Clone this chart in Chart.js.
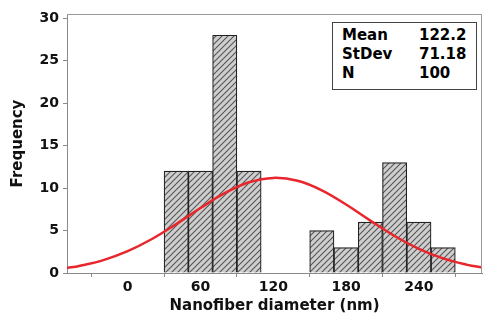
<!DOCTYPE html>
<html><head><meta charset="utf-8">
<script src="https://cdn.jsdelivr.net/npm/chart.js@4/dist/chart.umd.min.js"></script>
<style>
html,body{margin:0;padding:0;background:#fff;}
#wrap{position:relative;width:483px;height:320px;}
#stats{position:absolute;left:332px;top:22px;width:145px;height:68px;border:1.5px solid #444;box-sizing:border-box;background:#fff;
 font:bold 15px "DejaVu Sans",sans-serif;color:#000;padding:3px 0 0 9px;}
#stats div{height:19px;line-height:19px;white-space:nowrap;}
#stats span{display:inline-block;width:77px;}
</style></head><body>
<div id="wrap"><canvas id="c" width="483" height="320"></canvas><div id="stats"></div></div>
<script>
// Histogram bins (centres, nm) and counts
const binCenters = [40, 60, 80, 100, 160, 180, 200, 220, 240, 260];
const frequencies = [12, 12, 28, 12, 5, 3, 6, 13, 6, 3];
// Fitted normal curve
const curveX = [-50, -40, -20, 0, 20, 40, 60, 80, 100, 120, 140, 160, 180, 200, 220, 240, 260, 280, 292];
const curveY = [0.60, 0.83, 1.52, 2.57, 4.00, 5.76, 7.65, 9.40, 10.68, 11.20, 10.86, 9.74, 8.06, 6.17, 4.36, 2.85, 1.72, 0.96, 0.65];
// Tick labels
const xTicks = [0, 60, 120, 180, 240];
const yTicks = [0, 5, 10, 15, 20, 25, 30];
// Stats box
const statLabels = ['Mean', 'StDev', 'N'];
const statValues = ['122.2', '71.18', '100'];

document.getElementById('stats').innerHTML = statLabels.map((l, i) =>
  '<div><span>' + l + '</span>' + statValues[i] + '</div>').join('');

const canvas = document.getElementById('c');
const ctx = canvas.getContext('2d');
function hatch() {
  const s = 6;
  const p = document.createElement('canvas'); p.width = s; p.height = s;
  const g = p.getContext('2d');
  g.fillStyle = '#cfcfcf'; g.fillRect(0, 0, s, s);
  g.strokeStyle = '#555'; g.lineWidth = 1.1;
  g.beginPath();
  g.moveTo(-1, s + 1); g.lineTo(s + 1, -1);
  g.moveTo(-s / 2 - 1, s / 2 + 1); g.lineTo(s / 2 + 1, -s / 2 - 1);
  g.moveTo(s / 2 - 1, s * 1.5 + 1); g.lineTo(s * 1.5 + 1, s / 2 - 1);
  g.stroke();
  return ctx.createPattern(p, 'repeat');
}
const tickFont = {family: 'DejaVu Sans', size: 14, weight: 'bold'};
const titleFont = {family: 'DejaVu Sans', size: 15, weight: 'bold'};
const axisColor = '#8a8a8a';
const textColor = '#111';

const frame = {
  id: 'frame',
  afterDraw(chart) {
    const {ctx, chartArea: a} = chart;
    ctx.save();
    ctx.strokeStyle = '#999'; ctx.lineWidth = 1;
    ctx.beginPath();
    ctx.moveTo(a.left, a.top + 0.5); ctx.lineTo(a.right, a.top + 0.5);
    ctx.moveTo(a.right - 0.5, a.top); ctx.lineTo(a.right - 0.5, a.bottom);
    ctx.stroke();
    ctx.restore();
  }
};

new Chart(ctx, {
  data: {
    datasets: [
      {
        type: 'line',
        data: curveX.map((x, i) => ({x: x, y: curveY[i]})),
        borderColor: '#e8262b', borderWidth: 2.5, pointRadius: 0, tension: 0.4,
        fill: false, order: 0
      },
      {
        type: 'bar',
        data: binCenters.map((x, i) => ({x: x, y: frequencies[i]})),
        backgroundColor: hatch(), borderColor: '#222', borderWidth: 1.2,
        barPercentage: 1, categoryPercentage: 1, grouped: false, order: 1
      }
    ]
  },
  options: {
    responsive: false, animation: false,
    layout: {padding: {top: 14, right: 1, left: 0, bottom: 0}},
    plugins: {legend: {display: false}, tooltip: {enabled: false}},
    scales: {
      x: {
        type: 'linear', min: -50, max: 292, offset: false,
        afterBuildTicks: s => { s.ticks = xTicks.map(v => ({value: v})); },
        afterFit: s => { s.height = 47; },
        ticks: {font: tickFont, color: textColor, padding: 2, maxRotation: 0, autoSkip: false},
        grid: {drawOnChartArea: false, drawTicks: true, tickLength: 4, color: axisColor},
        border: {color: axisColor, width: 1},
        title: {display: true, text: 'Nanofiber diameter (nm)', font: titleFont, color: textColor, padding: {top: 0, bottom: 5}}
      },
      y: {
        min: 0, max: 30.5,
        afterBuildTicks: s => { s.ticks = yTicks.map(v => ({value: v})); },
        afterFit: s => { s.width = 67; },
        ticks: {font: tickFont, color: textColor, padding: 4},
        grid: {drawOnChartArea: false, drawTicks: true, tickLength: 4, color: axisColor},
        border: {color: axisColor, width: 1},
        title: {display: true, text: 'Frequency', font: titleFont, color: textColor, padding: {top: 9, bottom: 0}}
      }
    }
  },
  plugins: [frame]
});
</script>
</body></html>
